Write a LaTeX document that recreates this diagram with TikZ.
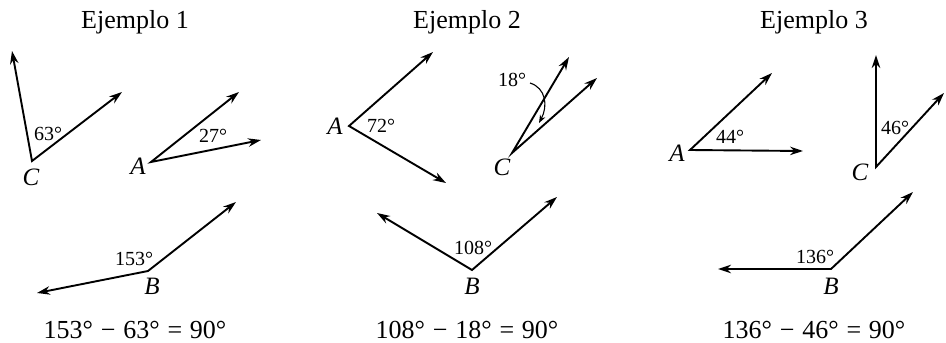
\documentclass[tikz,border=0pt]{standalone}
\usepackage{tikz}
\usepackage{fontspec}
\setmainfont{Liberation Serif}
\usetikzlibrary{arrows.meta}

\begin{document}
\begin{tikzpicture}[x=1pt, y=-1pt,
ray/.style={line width=1.9pt, {Stealth[length=13pt,width=8.5pt]}-{Stealth[length=13pt,width=8.5pt]}},
deg/.style={inner sep=0pt, font=\fontsize{20}{20}\selectfont},
vtx/.style={inner sep=0pt, font=\fontsize{25}{25}\selectfont\itshape},
head/.style={inner sep=0pt, font=\fontsize{26}{26}\selectfont}]

\useasboundingbox (0,0) rectangle (946,343);

\node[head] (title1) at (135,22) {Ejemplo 1};
\node[head] (title2) at (467,22) {Ejemplo 2};
\node[head] (title3) at (814,22) {Ejemplo 3};

\coordinate (C1) at (32,161);
\coordinate (C1u) at (12,51);
\coordinate (C1r) at (122,92);
\coordinate (A1) at (151,162);
\coordinate (A1u) at (239,92);
\coordinate (A1r) at (261,140);
\coordinate (B1) at (148,271);
\coordinate (B1r) at (236,202);
\coordinate (B1l) at (37,293);

\draw[ray] (C1u) -- (C1) -- (C1r);
\draw[ray] (A1u) -- (A1) -- (A1r);
\draw[ray] (B1l) -- (B1) -- (B1r);
\node[deg] (c1deg) at (48,134) {63°};
\node[deg] (a1deg) at (213,136) {27°};
\node[deg] (b1deg) at (134,259) {153°};
\node[vtx] (c1lab) at (31,177) {C};
\node[vtx] (a1lab) at (138,166) {A};
\node[vtx] (b1lab) at (152,286) {B};
\node[head] (eq1) at (135,330) {153°\hspace{0.3em}−\hspace{0.3em}63°\hspace{0.3em}=\hspace{0.3em}90°};

\coordinate (A2) at (349,126);
\coordinate (A2u) at (433,52);
\coordinate (A2d) at (446,183);
\coordinate (C2) at (512,153);
\coordinate (C2u) at (569,57);
\coordinate (C2r) at (597,78);
\coordinate (B2) at (472,270);
\coordinate (B2l) at (377,213);
\coordinate (B2r) at (557,197);

\draw[ray] (A2u) -- (A2) -- (A2d);
\draw[ray] (C2u) -- (C2) -- (C2r);
\draw[ray] (B2l) -- (B2) -- (B2r);
\node[deg] (a2deg) at (381,126) {72°};
\node[deg] (c2deg) at (512,80) {18°};
\node[deg] (b2deg) at (473,248) {108°};
\node[vtx] (a2lab) at (335,126) {A};
\node[vtx] (c2lab) at (502,167) {C};
\node[vtx] (b2lab) at (472,286) {B};
\coordinate (arcfrom) at (530,83);
\coordinate (arcto) at (539,123);
\draw[line width=1.1pt, -{Stealth[length=8pt,width=6pt]}] (arcfrom) .. controls (546,88) and (548,106) .. (arcto);
\node[head] (eq2) at (467,330) {108°\hspace{0.3em}−\hspace{0.3em}18°\hspace{0.3em}=\hspace{0.3em}90°};

\coordinate (A3) at (690,150);
\coordinate (A3u) at (772,73);
\coordinate (A3r) at (803,151);
\coordinate (C3) at (876,167);
\coordinate (C3u) at (876,55);
\coordinate (C3r) at (944,93);
\coordinate (B3) at (831,269);
\coordinate (B3r) at (913,192);
\coordinate (B3l) at (718,269);

\draw[ray] (A3u) -- (A3) -- (A3r);
\draw[ray] (C3u) -- (C3) -- (C3r);
\draw[ray] (B3l) -- (B3) -- (B3r);
\node[deg] (a3deg) at (730,137) {44°};
\node[deg] (c3deg) at (895,128) {46°};
\node[deg] (b3deg) at (815,257) {136°};
\node[vtx] (a3lab) at (677,153) {A};
\node[vtx] (c3lab) at (860,172) {C};
\node[vtx] (b3lab) at (831,286) {B};
\node[head] (eq3) at (814,330) {136°\hspace{0.3em}−\hspace{0.3em}46°\hspace{0.3em}=\hspace{0.3em}90°};

\end{tikzpicture}
\end{document}
